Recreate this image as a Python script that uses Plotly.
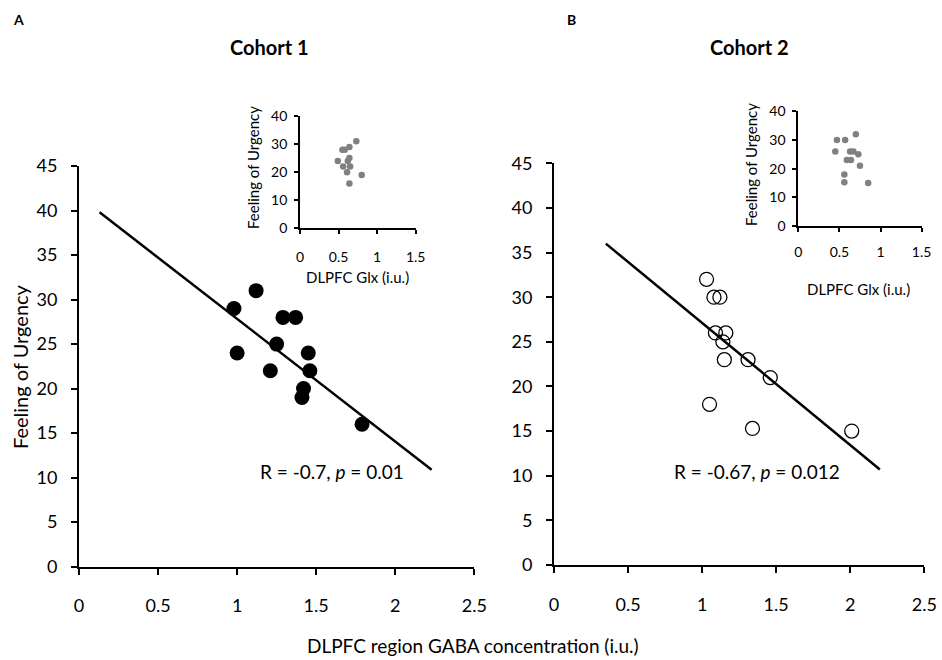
import plotly.graph_objects as go

# ---- data ----
cohort1_gaba = [0.98, 1.12, 1.29, 1.37, 1.25, 1.00, 1.45, 1.21, 1.46, 1.42, 1.41, 1.79]
cohort1_urgency = [29, 31, 28, 28, 25, 24, 24, 22, 22, 20, 19, 16]
cohort2_gaba = [1.03, 1.08, 1.12, 1.09, 1.16, 1.14, 1.15, 1.31, 1.46, 1.05, 1.34, 2.01]
cohort2_urgency = [32, 30, 30, 26, 26, 25, 23, 23, 21, 18, 15.3, 15]

cohort1_glx = [0.49, 0.55, 0.58, 0.64, 0.73, 0.64, 0.62, 0.56, 0.65, 0.61, 0.80, 0.64]
cohort1_glx_urgency = [24, 28, 28, 29, 31, 25, 24, 22, 22, 20, 19, 16]
cohort2_glx = [0.47, 0.57, 0.70, 0.45, 0.63, 0.67, 0.73, 0.59, 0.64, 0.75, 0.56, 0.56, 0.85]
cohort2_glx_urgency = [30, 30, 32, 26, 26, 26, 25, 23, 23, 21, 18, 15.3, 15]

fit1_x = [0.13, 2.23]
fit1_y = [39.8, 10.9]
fit2_x = [0.35, 2.20]
fit2_y = [36.0, 10.7]

main_xticks = [0, 0.5, 1, 1.5, 2, 2.5]
main_xticklabels = ["0", "0.5", "1", "1.5", "2", "2.5"]
main_yticks = [0, 5, 10, 15, 20, 25, 30, 35, 40, 45]
inset_xticks = [0, 0.5, 1, 1.5]
inset_xticklabels = ["0", "0.5", "1", "1.5"]
inset_yticks = [0, 10, 20, 30, 40]

FONT = "Lato"
W, H = 942, 660

fig = go.Figure()

# main panels
fig.add_trace(go.Scatter(x=fit1_x, y=fit1_y, mode="lines", line=dict(color="black", width=2.5),
                         xaxis="x", yaxis="y", showlegend=False))
fig.add_trace(go.Scatter(x=cohort1_gaba, y=cohort1_urgency, mode="markers",
                         marker=dict(size=15, color="black"), xaxis="x", yaxis="y", showlegend=False,
                         cliponaxis=False))
fig.add_trace(go.Scatter(x=fit2_x, y=fit2_y, mode="lines", line=dict(color="black", width=2.5),
                         xaxis="x2", yaxis="y2", showlegend=False))
fig.add_trace(go.Scatter(x=cohort2_gaba, y=cohort2_urgency, mode="markers",
                         marker=dict(size=14, color="rgba(0,0,0,0)", line=dict(color="black", width=1.3)),
                         xaxis="x2", yaxis="y2", showlegend=False, cliponaxis=False))
# insets
fig.add_trace(go.Scatter(x=cohort1_glx, y=cohort1_glx_urgency, mode="markers",
                         marker=dict(size=6.5, color="#808080"), xaxis="x3", yaxis="y3", showlegend=False))
fig.add_trace(go.Scatter(x=cohort2_glx, y=cohort2_glx_urgency, mode="markers",
                         marker=dict(size=6.5, color="#808080"), xaxis="x4", yaxis="y4", showlegend=False))


def px_x(p):
    return p / W


def px_y(p):
    return 1 - p / H


axis_common = dict(showline=True, linecolor="black", linewidth=1.8, ticks="outside",
                   tickcolor="black", tickwidth=1.8, showgrid=False, zeroline=False,
                   mirror=False, fixedrange=True, automargin=False)

main_font = dict(family=FONT, size=18, color="black")
inset_font = dict(family=FONT, size=14, color="black")

layout = dict(
    width=W, height=H,
    margin=dict(l=0, r=0, t=0, b=0, pad=0, autoexpand=False),
    paper_bgcolor="white", plot_bgcolor="rgba(0,0,0,0)",
    font=dict(family=FONT, color="black"),
    xaxis=dict(domain=[px_x(79), px_x(474.3)], range=[0, 2.5], tickvals=main_xticks,
               ticktext=main_xticklabels, ticklen=6, tickfont=main_font, ticklabelstandoff=16,
               anchor="y", **axis_common),
    yaxis=dict(domain=[px_y(566.7), px_y(166)], range=[0, 45], tickvals=main_yticks,
               ticklen=6, tickfont=main_font, ticklabelstandoff=10, anchor="x", **axis_common),
    xaxis2=dict(domain=[px_x(554), px_x(924.3)], range=[0, 2.5], tickvals=main_xticks,
                ticktext=main_xticklabels, ticklen=6, tickfont=main_font, ticklabelstandoff=16,
                anchor="y2", **axis_common),
    yaxis2=dict(domain=[px_y(565), px_y(163.3)], range=[0, 45], tickvals=main_yticks,
                ticklen=6, tickfont=main_font, ticklabelstandoff=10, anchor="x2", **axis_common),
    xaxis3=dict(domain=[px_x(300), px_x(415.7)], range=[0, 1.5], tickvals=inset_xticks,
                ticktext=inset_xticklabels, ticklen=4, tickfont=inset_font, ticklabelstandoff=11,
                anchor="y3", **axis_common),
    yaxis3=dict(domain=[px_y(228.3), px_y(116)], range=[0, 40], tickvals=inset_yticks,
                ticklen=4, tickfont=inset_font, ticklabelstandoff=4, anchor="x3", **axis_common),
    xaxis4=dict(domain=[px_x(798.3), px_x(921.6)], range=[0, 1.5], tickvals=inset_xticks,
                ticktext=inset_xticklabels, ticklen=4, tickfont=inset_font, ticklabelstandoff=8,
                anchor="y4", **axis_common),
    yaxis4=dict(domain=[px_y(226), px_y(111.3)], range=[0, 40], tickvals=inset_yticks,
                ticklen=4, tickfont=inset_font, ticklabelstandoff=4, anchor="x4", **axis_common),
)
fig.update_layout(**layout)


def ann(text, x, y, size, bold=False, angle=0, xanchor="center"):
    fig.add_annotation(text=f"<b>{text}</b>" if bold else text, x=px_x(x), y=px_y(y),
                       xref="paper", yref="paper", showarrow=False, textangle=angle,
                       xanchor=xanchor, yanchor="middle",
                       font=dict(family=FONT, size=size, color="black"))


ann("A", 18, 19, 14, bold=True)
ann("B", 571, 19, 14, bold=True)
ann("Cohort 1", 269, 47, 20, bold=True)
ann("Cohort 2", 749, 47, 20, bold=True)
ann("Feeling of Urgency", 20, 367, 20, angle=-90)
ann("DLPFC region GABA concentration (i.u.)", 473, 645, 19)
ann("R = -0.7, <i>p</i> = 0.01", 332, 471, 19)
ann("R = -0.67, <i>p</i> = 0.012", 757, 471, 19)
ann("Feeling of Urgency", 253, 168, 15, angle=-90)
ann("DLPFC Glx (i.u.)", 357, 277, 15)
ann("Feeling of Urgency", 751, 165, 15, angle=-90)
ann("DLPFC Glx (i.u.)", 858, 289, 15)

fig.write_html("out.html", config={"displayModeBar": False},
               post_script="document.body.style.margin='0';document.body.style.overflow='hidden';")
